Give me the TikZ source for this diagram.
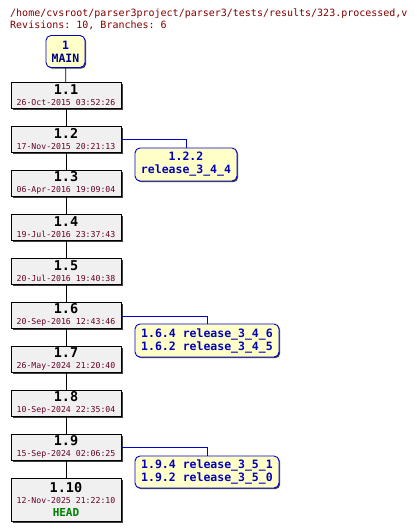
\documentclass[tikz,border=0pt]{standalone}
\usepackage{fontspec}
\setmonofont{DejaVu Sans Mono}
\usetikzlibrary{shadows}
\definecolor{titlered}{RGB}{128,0,0}
\definecolor{datered}{RGB}{102,0,40}
\definecolor{revgray}{RGB}{240,240,240}
\definecolor{tagyellow}{RGB}{255,255,200}
\definecolor{tagblue}{RGB}{0,0,200}
\definecolor{tagtext}{RGB}{0,0,190}
\definecolor{headgreen}{RGB}{0,128,0}
\newcommand{\revnumfont}{\ttfamily\bfseries\fontsize{13.5}{14}\selectfont}
\newcommand{\revdatefont}{\ttfamily\fontsize{8.2}{9}\selectfont\color{datered}}
\begin{document}
\begin{tikzpicture}[x=1pt,y=-1pt,
  titletext/.style={anchor=base west,text=titlered,font=\ttfamily\fontsize{10}{12}\selectfont,inner sep=0pt},
  revbox/.style={draw=black,fill=revgray,minimum width=110pt,minimum height=26pt,inner sep=0pt,align=center,
    drop shadow={shadow xshift=1.5pt,shadow yshift=-1.5pt,fill=black!75,opacity=1}},
  tagbox/.style={draw=tagblue,line width=0.9pt,fill=tagyellow,rounded corners=5pt,inner sep=0pt,align=center,
    text=tagtext,font=\ttfamily\bfseries\fontsize{11.5}{13}\selectfont,
    drop shadow={shadow xshift=1.2pt,shadow yshift=-1.2pt,fill=black!75,opacity=1}},
  trunk/.style={draw=black,line width=0.7pt},
  branchline/.style={draw=tagblue,line width=0.7pt}]
\useasboundingbox (0,0) rectangle (416,531);
\node[titletext] (title) at (10,16) {/home/cvsroot/parser3project/parser3/tests/results/323.processed,v};
\node[titletext] (summary) at (10,28) {Revisions: 10, Branches: 6};

\node[tagbox,minimum width=39pt,minimum height=32pt] (main) at (65.5,51.5)
  {1\\{\color{tagtext!70!black}MAIN}};

\node[revbox] (r1) at (66,95) {{\revnumfont 1.1}\\[-1pt]{\revdatefont 26-Oct-2015 03:52:26}};
\node[revbox] (r2) at (66,139) {{\revnumfont 1.2}\\[-1pt]{\revdatefont 17-Nov-2015 20:21:13}};
\node[revbox] (r3) at (66,183) {{\revnumfont 1.3}\\[-1pt]{\revdatefont 06-Apr-2016 19:09:04}};
\node[revbox] (r4) at (66,227) {{\revnumfont 1.4}\\[-1pt]{\revdatefont 19-Jul-2016 23:37:43}};
\node[revbox] (r5) at (66,271) {{\revnumfont 1.5}\\[-1pt]{\revdatefont 20-Jul-2016 19:40:38}};
\node[revbox] (r6) at (66,315) {{\revnumfont 1.6}\\[-1pt]{\revdatefont 20-Sep-2016 12:43:46}};
\node[revbox] (r7) at (66,359) {{\revnumfont 1.7}\\[-1pt]{\revdatefont 26-May-2024 21:20:40}};
\node[revbox] (r8) at (66,403) {{\revnumfont 1.8}\\[-1pt]{\revdatefont 10-Sep-2024 22:35:04}};
\node[revbox] (r9) at (66,447) {{\revnumfont 1.9}\\[-1pt]{\revdatefont 15-Sep-2024 02:06:25}};
\node[revbox,minimum height=43pt] (r10) at (66,499.5) {{\revnumfont 1.10}\\[-1pt]{\revdatefont 12-Nov-2025 21:22:10}\\[1pt]
  {\ttfamily\bfseries\fontsize{11}{12}\selectfont\color{headgreen}HEAD}};

\node[tagbox,minimum width=102pt,minimum height=33pt] (b122) at (186,164.5) {1.2.2\\release\_3\_4\_4};
\node[tagbox,minimum width=144pt,minimum height=33pt] (b16) at (207,340.5) {1.6.4 release\_3\_4\_6\\1.6.2 release\_3\_4\_5};
\node[tagbox,minimum width=144pt,minimum height=32pt] (b19) at (207,472) {1.9.4 release\_3\_5\_1\\1.9.2 release\_3\_5\_0};

\draw[trunk] (main) -- (r1);
\draw[trunk] (r1) -- (r2);
\draw[trunk] (r2) -- (r3);
\draw[trunk] (r3) -- (r4);
\draw[trunk] (r4) -- (r5);
\draw[trunk] (r5) -- (r6);
\draw[trunk] (r6) -- (r7);
\draw[trunk] (r7) -- (r8);
\draw[trunk] (r8) -- (r9);
\draw[trunk] (r9) -- (r10);

\draw[branchline] (r2.east) -| (b122.north);
\draw[branchline] ([yshift=-1pt]r6.east) -| (b16.north);
\draw[branchline] (r9.east) -| (b19.north);
\end{tikzpicture}
\end{document}
